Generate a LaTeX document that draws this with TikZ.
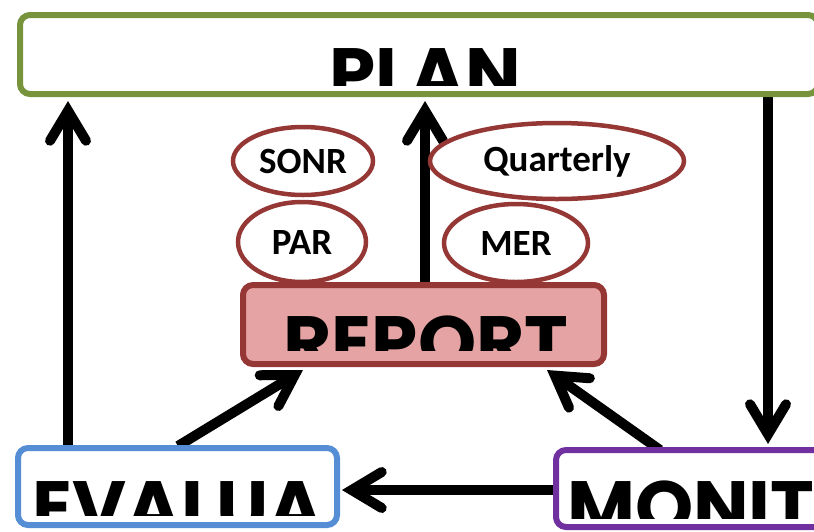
\documentclass[tikz,border=0pt]{standalone}
\usepackage{fontspec}
\newfontfamily\headfont{Poppins}
\newfontfamily\tagfont{Carlito}
\usetikzlibrary{arrows.meta,backgrounds,calc,shapes.geometric}
\definecolor{plangreen}{HTML}{77933C}
\definecolor{reportred}{HTML}{953735}
\definecolor{reportfill}{HTML}{E6A3A3}
\definecolor{evalblue}{HTML}{558ED5}
\definecolor{monitpurple}{HTML}{7030A0}
\begin{document}
\begin{tikzpicture}[x=1pt,y=-1pt,
  stagebox/.style={draw, line width=6pt, rounded corners=10pt, fill=white,
    inner sep=0pt, outer sep=0pt},
  headtext/.style={inner sep=0pt, anchor=base,
    font=\headfont\bfseries\fontsize{74}{74}\selectfont},
  tag/.style={ellipse, draw=reportred, line width=4.5pt, fill=white, inner sep=0pt,
    font=\tagfont\bfseries\fontsize{37}{37}\selectfont},
  arr/.style={line width=10pt,
    -{Straight Barb[length=30pt,width=36pt,line cap=round,line join=miter]}}
]
\useasboundingbox (0,0) rectangle (814,531);

% stage boxes
\node[stagebox, draw=plangreen, minimum width=798pt, minimum height=79pt] (plan) at (419,54.5) {};
\node[stagebox, draw=reportred, fill=reportfill, minimum width=361pt, minimum height=79pt] (report) at (423.5,324.5) {};
\node[stagebox, draw=evalblue, minimum width=319pt, minimum height=77pt] (eval) at (177.5,486.5) {};
\node[stagebox, draw=monitpurple, minimum width=314pt, minimum height=77pt] (monit) at (713,488.5) {};

% box captions, cut off at the lower edge of their text frames
\begin{scope}
  \clip (17,15) rectangle (820,85);
  \node[headtext] (plantext) at (425,100) {PLAN};
\end{scope}
\begin{scope}
  \clip (240,285) rectangle (607,350);
  \node[headtext] (reporttext) at (426,368) {REPORT};
\end{scope}
\begin{scope}
  \clip (15,448) rectangle (340,515);
  \node[headtext] (evaltext) at (178,533) {EVALUA};
\end{scope}
\begin{scope}
  \clip (553,450) rectangle (814,518);
  \node[headtext, anchor=base west] (monittext) at (567,533) {MONIT};
\end{scope}

% report types
\node[tag, minimum width=140pt, minimum height=68pt] (sonr) at (303,161) {SONR};
\node[tag, minimum width=254pt, minimum height=76pt] (quarterly) at (557,161) {Quarterly};
\node[tag, minimum width=128pt, minimum height=80pt] (par) at (302,242) {PAR};
\node[tag, minimum width=144pt, minimum height=78pt] (mer) at (516,243) {MER};

% flows between stages
\coordinate (evalup) at (68,448);
\coordinate (planin1) at (68,101);
\coordinate (reportup) at (425,285);
\coordinate (planin2) at (425,101);
\coordinate (planout) at (768,94);
\coordinate (monitin) at (768,444);
\coordinate (evalout) at (178,446);
\coordinate (reportin1) at (303,370);
\coordinate (monitout) at (660,450);
\coordinate (reportin2) at (547,370);
\coordinate (monitleft) at (556,490);
\coordinate (evalin) at (342,490);
\begin{scope}[on background layer]
  \draw[arr] (evalup) -- (planin1);
  \draw[arr] (reportup) -- (planin2);
  \draw[arr] (planout) -- (monitin);
  \draw[arr] (evalout) -- (reportin1);
  \draw[arr] (monitout) -- (reportin2);
  \draw[arr] (monitleft) -- (evalin);
\end{scope}
\end{tikzpicture}
\end{document}
